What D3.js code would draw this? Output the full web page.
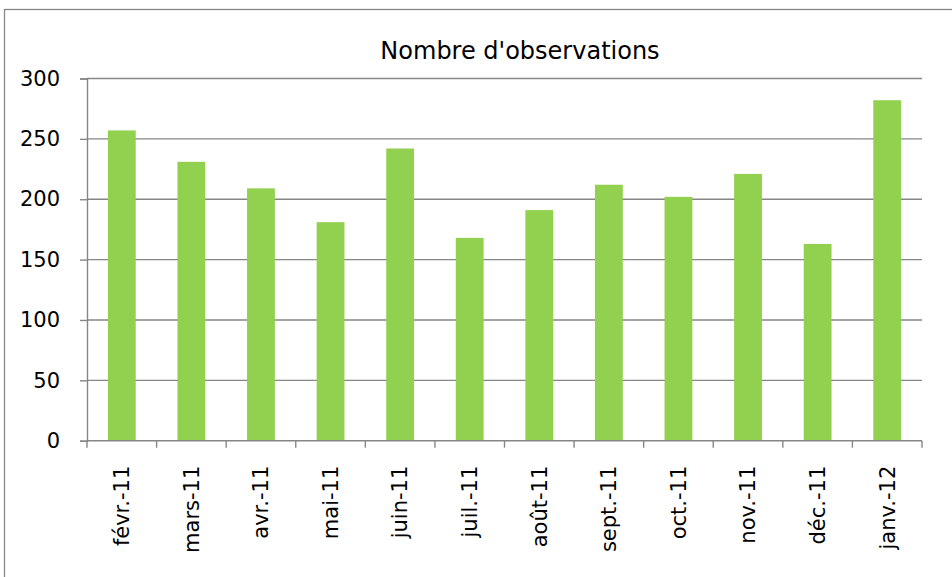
<!DOCTYPE html>
<html>
<head>
<meta charset="utf-8">
<script src="https://cdn.jsdelivr.net/npm/d3@7"></script>
<style>
  html, body { margin: 0; padding: 0; background: #fff; }
  svg { display: block; }
  text { font-family: "DejaVu Sans", sans-serif; fill: #000; }
</style>
</head>
<body>
<svg id="chart" width="952" height="577"></svg>
<script>
const categories = ["févr.-11","mars-11","avr.-11","mai-11","juin-11","juil.-11","août-11","sept.-11","oct.-11","nov.-11","déc.-11","janv.-12"];
const values = [257, 231, 209, 181, 242, 168, 191, 212, 202, 221, 163, 282];
const yTicks = [0, 50, 100, 150, 200, 250, 300];
const title = "Nombre d'observations";

const svg = d3.select("#chart");
const W = 952, H = 577;
const margin = { left: 87, right: 30, top: 78.5, bottom: 136.3 };

// outer chart border
svg.append("rect")
  .attr("x", 4.5).attr("y", 9.5)
  .attr("width", W + 10).attr("height", H + 10)
  .attr("fill", "#fff").attr("stroke", "#868686").attr("stroke-width", 1.3);

const x = d3.scaleBand().domain(categories)
  .range([margin.left, W - margin.right]).paddingInner(0.6).paddingOuter(0.3);
const y = d3.scaleLinear().domain([0, 300]).range([H - margin.bottom, margin.top]);

// gridlines
svg.append("g")
  .selectAll("line").data(yTicks.filter(d => d > 0)).join("line")
  .attr("x1", margin.left).attr("x2", W - margin.right)
  .attr("y1", d => y(d)).attr("y2", d => y(d))
  .attr("stroke", "#868686").attr("stroke-width", 1.4);

// bars
svg.append("g")
  .selectAll("rect").data(values).join("rect")
  .attr("x", (d, i) => x(categories[i]))
  .attr("width", x.bandwidth())
  .attr("y", d => y(d))
  .attr("height", d => y(0) - y(d))
  .attr("fill", "#92D050");

// y axis
const yAxis = d3.axisLeft(y).tickValues(yTicks).tickSize(7).tickPadding(20).tickFormat(d3.format("d"));
const gy = svg.append("g").attr("transform", `translate(${margin.left},0)`).call(yAxis);
gy.select(".domain").attr("stroke", "#868686").attr("stroke-width", 1.4);
gy.selectAll(".tick line").attr("stroke", "#868686").attr("stroke-width", 1.4);
gy.selectAll(".tick text").attr("font-size", 21).attr("font-family", "DejaVu Sans").attr("fill", "#000");

// x axis line and boundary ticks
const step = x.step();
const x0 = margin.left;
const boundaries = d3.range(categories.length + 1).map(i => x0 + i * (W - margin.right - margin.left) / categories.length);
svg.append("line")
  .attr("x1", margin.left).attr("x2", W - margin.right)
  .attr("y1", y(0)).attr("y2", y(0))
  .attr("stroke", "#868686").attr("stroke-width", 1.4);
svg.append("g").selectAll("line").data(boundaries).join("line")
  .attr("x1", d => d).attr("x2", d => d)
  .attr("y1", y(0)).attr("y2", y(0) + 7)
  .attr("stroke", "#868686").attr("stroke-width", 1.4);

// x labels rotated
svg.append("g").selectAll("text").data(categories).join("text")
  .attr("transform", d => `translate(${x(d) + x.bandwidth() / 2},${y(0) + 25}) rotate(-90)`)
  .attr("text-anchor", "end")
  .attr("dy", "0.35em")
  .attr("font-size", 21)
  .text(d => d);

// title
svg.append("text")
  .attr("x", 520).attr("y", 59)
  .attr("text-anchor", "middle")
  .attr("font-size", 24)
  .text(title);
</script>
</body>
</html>
